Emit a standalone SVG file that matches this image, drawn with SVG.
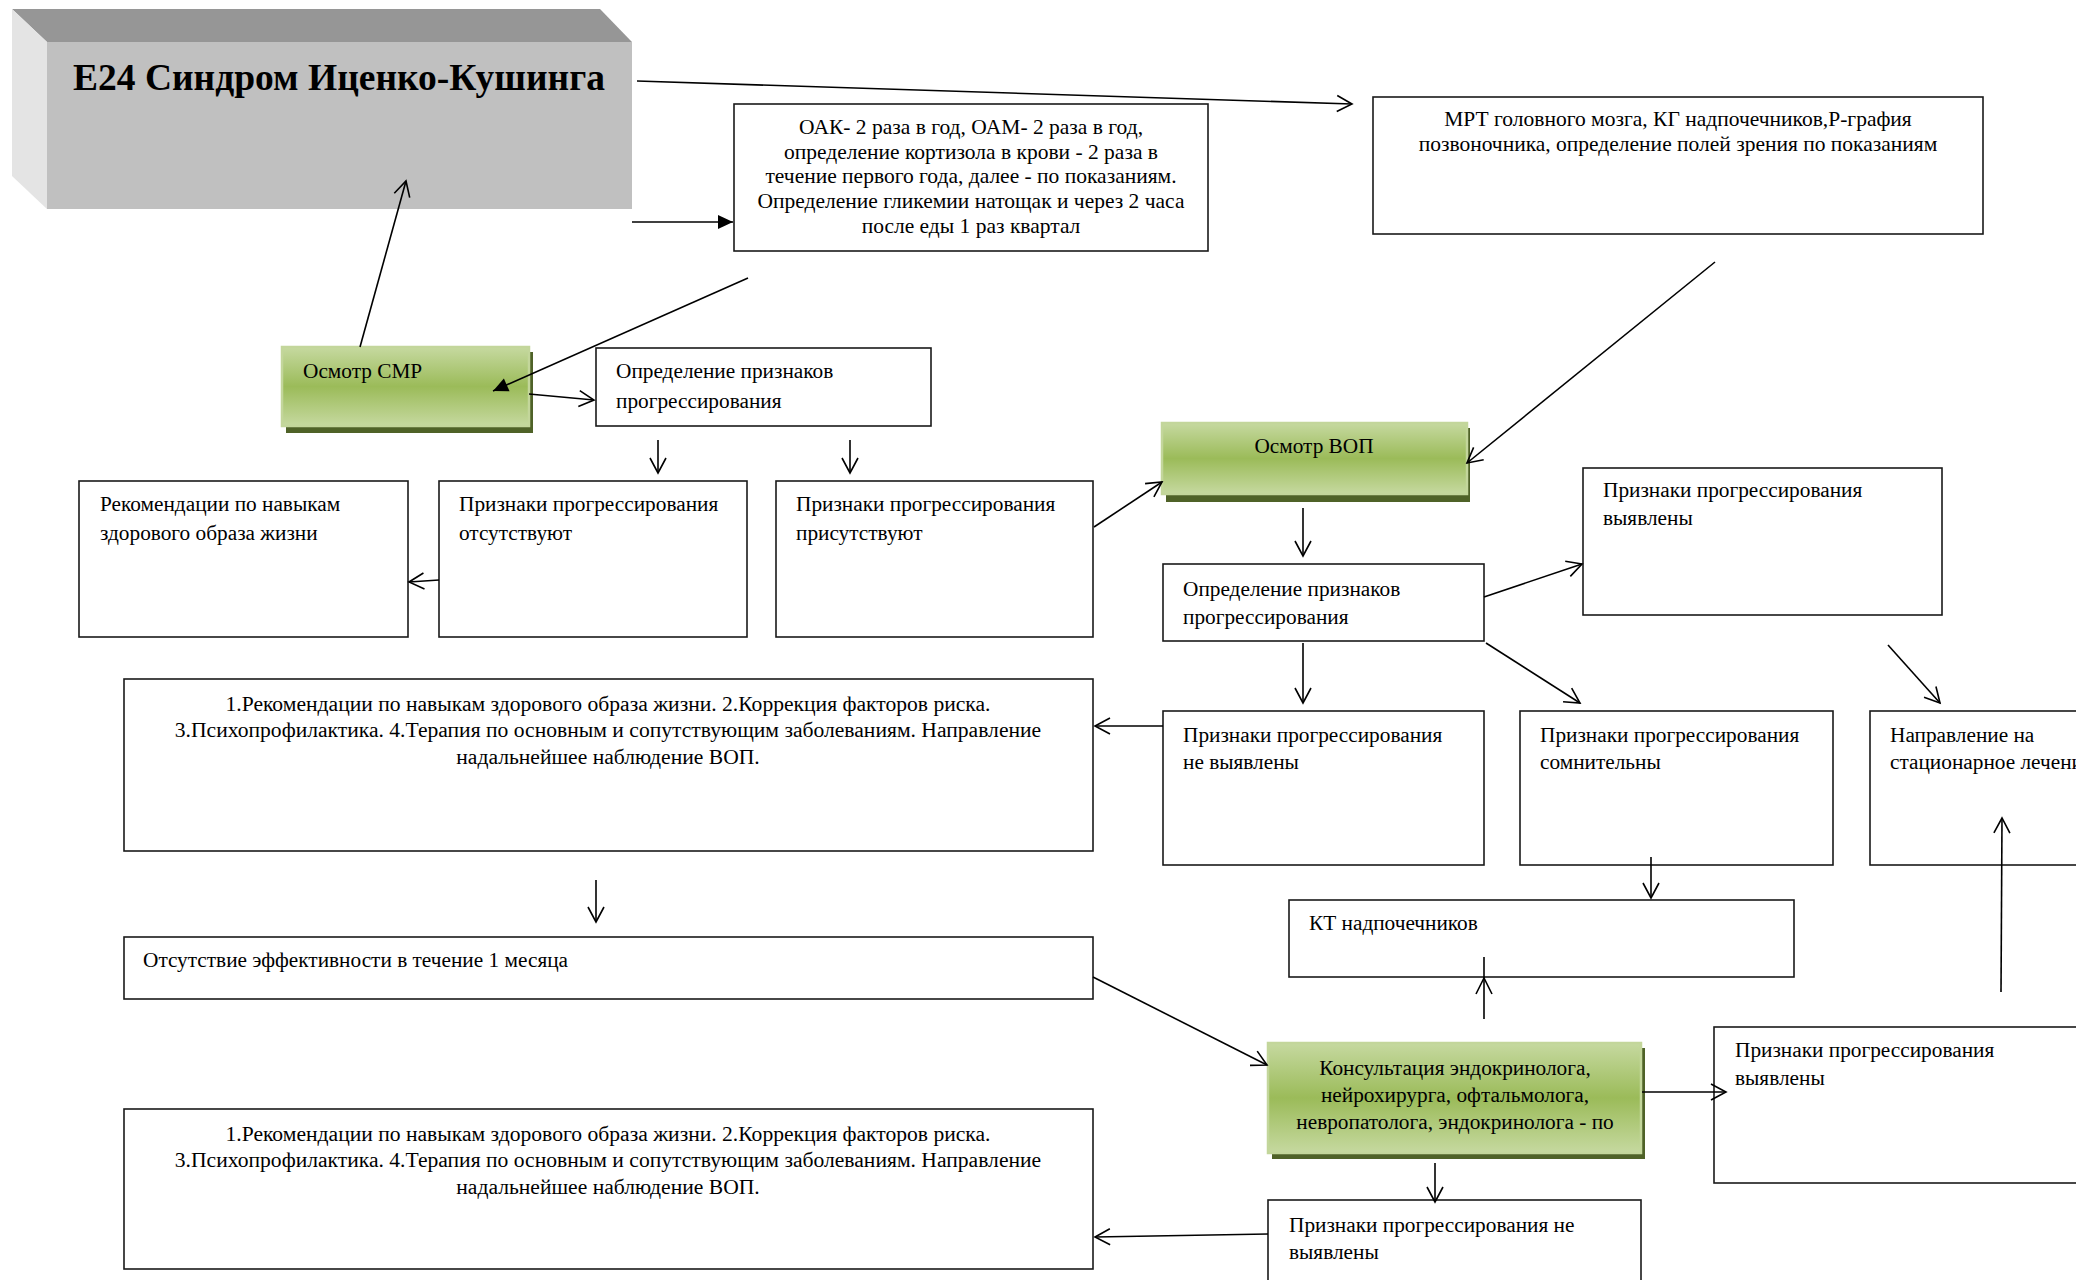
<svg xmlns="http://www.w3.org/2000/svg" width="2076" height="1280" viewBox="0 0 2076 1280">
  <defs>
    <style>
      text { font-family: "Liberation Serif", "Times New Roman", serif; fill: #000; }
      .t { font-size: 21.3px; }
      .s { font-size: 21.5px; }
      .b { font-size: 21.6px; }
      .c { text-anchor: middle; }
      .box { fill: #fff; stroke: #1a1a1a; stroke-width: 1.6; }
      .green { fill: url(#greenGrad); stroke: #c3d69b; stroke-width: 2.5; }
      .shadow { fill: #4f6228; }
      .conn { fill: none; stroke: #000; stroke-width: 1.6; }
      .open { marker-end: url(#openHead); }
      .solid { marker-end: url(#solidHead); }
    </style>
    <linearGradient id="greenGrad" x1="0" y1="0" x2="0" y2="1">
      <stop offset="0" stop-color="#c6d9a0"/>
      <stop offset="0.5" stop-color="#9bbb59"/>
      <stop offset="1" stop-color="#c6d9a0"/>
    </linearGradient>
    <marker id="openHead" markerUnits="userSpaceOnUse" markerWidth="18" markerHeight="18" refX="15" refY="8" orient="auto" overflow="visible">
      <path d="M0,0 L15,8 L0,16" fill="none" stroke="#000" stroke-width="1.6"/>
    </marker>
    <marker id="solidHead" markerUnits="userSpaceOnUse" markerWidth="18" markerHeight="18" refX="15" refY="7" orient="auto" overflow="visible">
      <path d="M0,0 L15,7 L0,14 z" fill="#000"/>
    </marker>
  </defs>

  <rect width="2076" height="1280" fill="#fff"/>

  <!-- title block: extruded grey box -->
  <g id="title">
    <polygon points="12,9 600,9 632,42 47,42" fill="#969696"/>
    <polygon points="12,9 47,42 47,209 12,176" fill="#e4e4e4"/>
    <rect x="47" y="42" width="585" height="167" fill="#c0c0c0"/>
    <text x="73" y="90" font-size="37.5" font-weight="bold">E24 Синдром Иценко-Кушинга</text>
  </g>

  <g id="labs">
    <rect class="box" x="734" y="104" width="474" height="147"/>
    <text class="s c" x="971" y="134">ОАК- 2 раза в год, ОАМ- 2 раза в год,</text>
    <text class="s c" x="971" y="159">определение кортизола в крови - 2 раза в</text>
    <text class="s c" x="971" y="183">течение первого года, далее - по показаниям.</text>
    <text class="s c" x="971" y="208">Определение гликемии натощак и через 2 часа</text>
    <text class="s c" x="971" y="233">после еды 1 раз квартал</text>
  </g>

  <g id="imaging">
    <rect class="box" x="1373" y="97" width="610" height="137"/>
    <text class="s c" x="1678" y="126">МРТ головного мозга, КГ надпочечников,Р-графия</text>
    <text class="s c" x="1678" y="151">позвоночника, определение полей зрения по показаниям</text>
  </g>

  <g id="smr">
    <rect class="shadow" x="286" y="352" width="247" height="81"/>
    <rect class="green" x="282" y="347" width="247" height="79"/>
    <text class="t" x="303" y="378">Осмотр СМР</text>
  </g>

  <g id="assess1">
    <rect class="box" x="596" y="348" width="335" height="78"/>
    <text class="t" x="616" y="378">Определение признаков</text>
    <text class="t" x="616" y="408">прогрессирования</text>
  </g>

  <g id="lifestyle">
    <rect class="box" x="79" y="481" width="329" height="156"/>
    <text class="t" x="100" y="511">Рекомендации по навыкам</text>
    <text class="t" x="100" y="540">здорового образа жизни</text>
  </g>

  <g id="absent">
    <rect class="box" x="439" y="481" width="308" height="156"/>
    <text class="t" x="459" y="511">Признаки прогрессирования</text>
    <text class="t" x="459" y="540">отсутствуют</text>
  </g>

  <g id="present">
    <rect class="box" x="776" y="481" width="317" height="156"/>
    <text class="t" x="796" y="511">Признаки прогрессирования</text>
    <text class="t" x="796" y="540">присутствуют</text>
  </g>

  <g id="vop">
    <rect class="shadow" x="1166" y="428" width="304" height="74"/>
    <rect class="green" x="1162" y="423" width="305" height="71"/>
    <text class="t c" x="1314" y="453">Осмотр ВОП</text>
  </g>

  <g id="assess2">
    <rect class="box" x="1163" y="564" width="321" height="77"/>
    <text class="t" x="1183" y="596">Определение признаков</text>
    <text class="t" x="1183" y="624">прогрессирования</text>
  </g>

  <g id="found1">
    <rect class="box" x="1583" y="468" width="359" height="147"/>
    <text class="t" x="1603" y="497">Признаки прогрессирования</text>
    <text class="t" x="1603" y="525">выявлены</text>
  </g>

  <g id="notfound1">
    <rect class="box" x="1163" y="711" width="321" height="154"/>
    <text class="t" x="1183" y="742">Признаки прогрессирования</text>
    <text class="t" x="1183" y="769">не выявлены</text>
  </g>

  <g id="doubtful">
    <rect class="box" x="1520" y="711" width="313" height="154"/>
    <text class="t" x="1540" y="742">Признаки прогрессирования</text>
    <text class="t" x="1540" y="769">сомнительны</text>
  </g>

  <g id="inpatient">
    <rect class="box" x="1870" y="711" width="220" height="154"/>
    <text class="t" x="1890" y="742">Направление на</text>
    <text class="t" x="1890" y="769">стационарное лечение</text>
  </g>

  <g id="plan1">
    <rect class="box" x="124" y="679" width="969" height="172"/>
    <text class="b c" x="608" y="711">1.Рекомендации по навыкам здорового образа жизни. 2.Коррекция факторов риска.</text>
    <text class="b c" x="608" y="737">3.Психопрофилактика. 4.Терапия по основным и сопутствующим заболеваниям. Направление</text>
    <text class="b c" x="608" y="764">надальнейшее наблюдение ВОП.</text>
  </g>

  <g id="noeffect">
    <rect class="box" x="124" y="937" width="969" height="62"/>
    <text class="t" x="143" y="967">Отсутствие эффективности в течение 1 месяца</text>
  </g>

  <g id="ct">
    <rect class="box" x="1289" y="900" width="505" height="77"/>
    <text class="t" x="1309" y="930">КТ надпочечников</text>
  </g>

  <g id="consult">
    <rect class="shadow" x="1272" y="1048" width="373" height="111"/>
    <rect class="green" x="1268" y="1043" width="373" height="110"/>
    <text class="t c" x="1455" y="1075">Консультация эндокринолога,</text>
    <text class="t c" x="1455" y="1102">нейрохирурга, офтальмолога,</text>
    <text class="t c" x="1455" y="1129">невропатолога, эндокринолога - по</text>
  </g>

  <g id="found2">
    <rect class="box" x="1714" y="1027" width="380" height="156"/>
    <text class="t" x="1735" y="1057">Признаки прогрессирования</text>
    <text class="t" x="1735" y="1085">выявлены</text>
  </g>

  <g id="notfound2">
    <rect class="box" x="1268" y="1200" width="373" height="100"/>
    <text class="t" x="1289" y="1232">Признаки прогрессирования не</text>
    <text class="t" x="1289" y="1259">выявлены</text>
  </g>

  <g id="plan2">
    <rect class="box" x="124" y="1109" width="969" height="160"/>
    <text class="b c" x="608" y="1141">1.Рекомендации по навыкам здорового образа жизни. 2.Коррекция факторов риска.</text>
    <text class="b c" x="608" y="1167">3.Психопрофилактика. 4.Терапия по основным и сопутствующим заболеваниям. Направление</text>
    <text class="b c" x="608" y="1194">надальнейшее наблюдение ВОП.</text>
  </g>

  <!-- connectors -->
  <g id="connectors">
    <line class="conn open" x1="637" y1="81" x2="1352" y2="104"/>
    <line class="conn solid" x1="632" y1="222" x2="733" y2="222"/>
    <line class="conn solid" x1="748" y1="278" x2="493" y2="391"/>
    <line class="conn open" x1="360" y1="347" x2="406" y2="181"/>
    <line class="conn open" x1="529" y1="394" x2="594" y2="400"/>
    <line class="conn open" x1="658" y1="440" x2="658" y2="473"/>
    <line class="conn open" x1="850" y1="440" x2="850" y2="473"/>
    <line class="conn open" x1="439" y1="580" x2="409" y2="582"/>
    <line class="conn open" x1="1094" y1="527" x2="1162" y2="482"/>
    <line class="conn open" x1="1715" y1="262" x2="1467" y2="463"/>
    <line class="conn open" x1="1303" y1="508" x2="1303" y2="556"/>
    <line class="conn open" x1="1484" y1="597" x2="1582" y2="564"/>
    <line class="conn open" x1="1888" y1="645" x2="1940" y2="703"/>
    <line class="conn open" x1="1303" y1="643" x2="1303" y2="703"/>
    <line class="conn open" x1="1486" y1="643" x2="1580" y2="703"/>
    <line class="conn open" x1="1163" y1="726" x2="1095" y2="726"/>
    <line class="conn open" x1="596" y1="880" x2="596" y2="922"/>
    <line class="conn open" x1="1651" y1="857" x2="1651" y2="898"/>
    <line class="conn open" x1="1093" y1="977" x2="1267" y2="1065"/>
    <line class="conn" x1="1484" y1="1019" x2="1484" y2="957"/>
    <path class="conn" d="M1476,994 L1484,978 L1492,994"/>
    <line class="conn open" x1="2001" y1="992" x2="2002" y2="818"/>
    <line class="conn open" x1="1642" y1="1092" x2="1726" y2="1092"/>
    <line class="conn open" x1="1435" y1="1163" x2="1435" y2="1202"/>
    <line class="conn open" x1="1268" y1="1234" x2="1095" y2="1237"/>
  </g>
</svg>
